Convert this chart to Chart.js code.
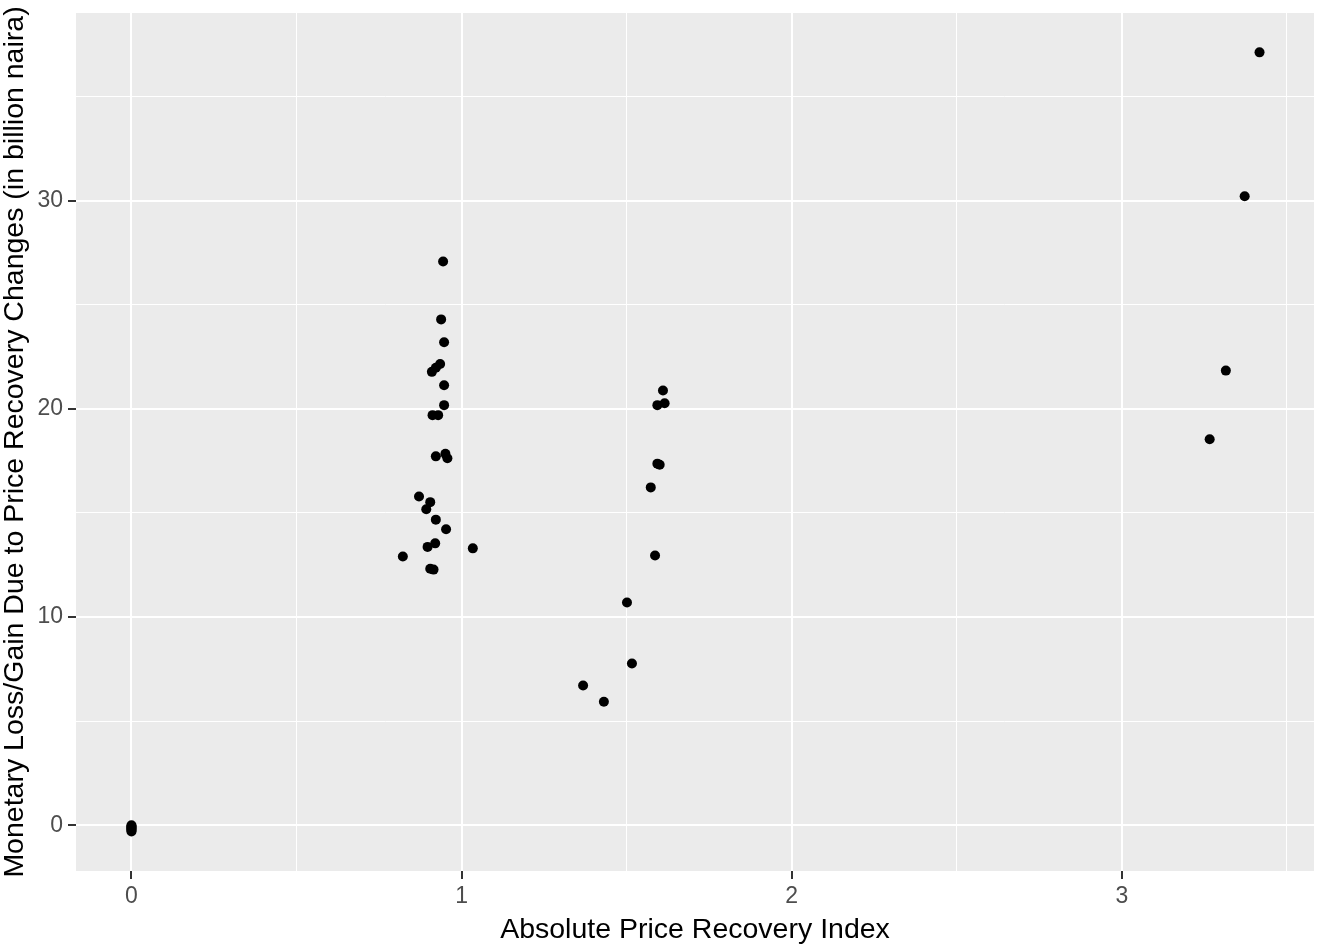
<!DOCTYPE html>
<html>
<head>
<meta charset="utf-8">
<script src="https://cdn.jsdelivr.net/npm/chart.js@4"></script>
<style>
  html, body { margin: 0; padding: 0; background: #ffffff; }
  #wrap { width: 1319px; height: 948px; }
</style>
</head>
<body>
<div id="wrap"><canvas id="scatter-chart" width="1319" height="948"></canvas></div>
<script>
// price recovery index (x) and monetary loss/gain in billion naira (y)
var priceIndex = [
    0, 0, 0, 0, 0, 0, 0,
    0.944, 0.938, 0.947, 0.935, 0.922, 0.910, 0.947, 0.947, 0.912, 0.929,
    0.922, 0.951, 0.957, 0.871, 0.905, 0.893, 0.922, 0.953, 0.920, 0.897,
    1.034, 0.822, 0.905, 0.915,
    1.610, 1.593, 1.615, 1.593, 1.600, 1.573, 1.586, 1.501, 1.516, 1.368, 1.431,
    3.417, 3.372, 3.315, 3.266
];
var lossGain = [
    0, -0.05, -0.1, -0.15, -0.2, -0.25, -0.3,
    27.08, 24.30, 23.20, 22.16, 21.98, 21.78, 21.14, 20.18, 19.70, 19.70,
    17.72, 17.84, 17.63, 15.79, 15.52, 15.18, 14.68, 14.22, 13.54, 13.37,
    13.30, 12.91, 12.32, 12.28,
    20.88, 20.18, 20.27, 17.37, 17.32, 16.23, 12.96, 10.70, 7.77, 6.71, 5.93,
    37.13, 30.22, 21.84, 18.54
];
var xTicks = [0, 1, 2, 3];
var yTicks = [0, 10, 20, 30];

var points = [];
for (var i = 0; i < priceIndex.length; i++) {
    points.push({x: priceIndex[i], y: lossGain[i]});
}

function isMajor(value, list) {
    return list.some(function (t) { return Math.abs(t - value) < 1e-6; });
}

var panelBg = {
    id: 'panelBg',
    beforeDraw: function (chart) {
        var a = chart.chartArea, c = chart.ctx;
        c.save();
        c.fillStyle = '#EBEBEB';
        c.fillRect(a.left, a.top, a.right - a.left, a.bottom - a.top);
        c.restore();
    }
};

var tickFont = {family: "'Liberation Sans', Arial, sans-serif", size: 23};
var titleFont = {family: "'Liberation Sans', Arial, sans-serif", size: 28.5, lineHeight: 1.2};

var configScatter = {
    type: 'scatter',
    data: {
        datasets: [{
            data: points,
            backgroundColor: '#000000',
            pointRadius: 5,
            pointHoverRadius: 5,
            pointBorderWidth: 0
        }]
    },
    options: {
        responsive: false,
        animation: false,
        layout: {padding: {top: 13, right: 3, left: 0, bottom: 0}},
        plugins: {legend: {display: false}, tooltip: {enabled: false}},
        scales: {
            x: {
                type: 'linear',
                min: -0.168,
                max: 3.582,
                afterFit: function (s) {
                    s.height = 77;
                    s.paddingLeft = 0;
                    s.paddingRight = 0;
                },
                border: {display: false},
                grid: {
                    color: '#FFFFFF',
                    lineWidth: function (ctx) { return isMajor(ctx.tick.value, xTicks) ? 2 : 1; },
                    tickColor: function (ctx) { return isMajor(ctx.tick.value, xTicks) ? '#333333' : 'rgba(0,0,0,0)'; },
                    tickWidth: 2,
                    tickLength: 8
                },
                ticks: {
                    stepSize: 0.5,
                    includeBounds: false,
                    autoSkip: false,
                    maxRotation: 0,
                    padding: 4,
                    color: '#4D4D4D',
                    font: tickFont,
                    callback: function (v) { return isMajor(v, xTicks) ? String(v) : ''; }
                },
                title: {
                    display: true,
                    text: 'Absolute Price Recovery Index',
                    color: '#000000',
                    font: titleFont,
                    padding: {top: 0, bottom: 1}
                }
            },
            y: {
                type: 'linear',
                min: -2.2,
                max: 39.02,
                afterFit: function (s) {
                    s.width = 76;
                    s.paddingTop = 0;
                    s.paddingBottom = 0;
                },
                border: {display: false},
                grid: {
                    color: '#FFFFFF',
                    lineWidth: function (ctx) { return isMajor(ctx.tick.value, yTicks) ? 2 : 1; },
                    tickColor: function (ctx) { return isMajor(ctx.tick.value, yTicks) ? '#333333' : 'rgba(0,0,0,0)'; },
                    tickWidth: 2,
                    tickLength: 8
                },
                ticks: {
                    stepSize: 5,
                    includeBounds: false,
                    autoSkip: false,
                    padding: 5,
                    color: '#4D4D4D',
                    font: tickFont,
                    callback: function (v) { return isMajor(v, yTicks) ? String(v) : ''; }
                },
                title: {
                    display: true,
                    text: 'Monetary Loss/Gain Due to Price Recovery Changes (in billion naira)',
                    color: '#000000',
                    font: titleFont,
                    padding: {top: -2, bottom: 0}
                }
            }
        }
    },
    plugins: [panelBg]
};

var myChartScatter = document.getElementById("scatter-chart").getContext("2d");
var myScatter = new Chart(myChartScatter, configScatter);
</script>
</body>
</html>
